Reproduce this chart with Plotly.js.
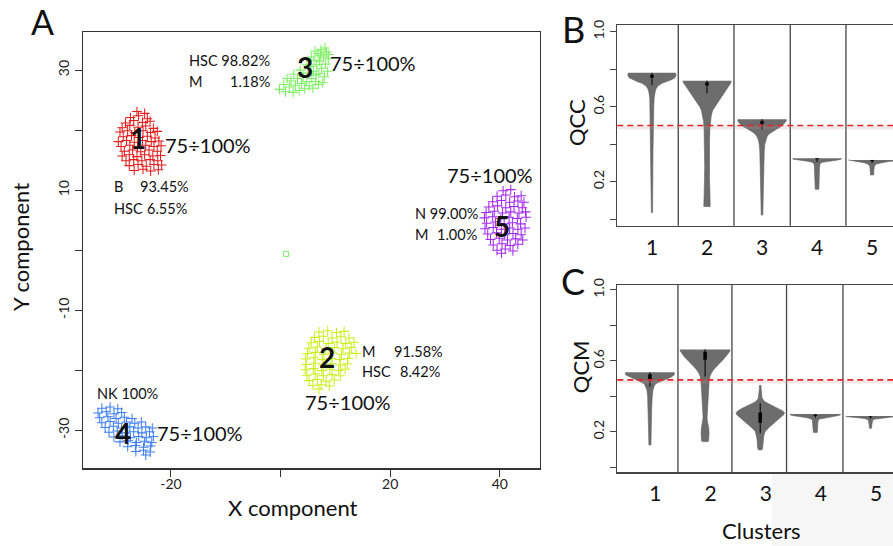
<!DOCTYPE html>
<html><head><meta charset="utf-8">
<script src="https://cdn.plot.ly/plotly-3.0.1.min.js"></script>
<style>html,body{margin:0;padding:0;background:#fff}#chart{width:893px;height:546px}</style>
</head><body><div id="chart"></div>
<script>
// ---------- Panel A: cluster points (X component, Y component) ----------
const cluster1Pts = [[-26.2,23.1],[-24.8,22.8],[-27.4,22.1],[-25.9,22.4],[-24.3,21.9],
[-28.3,21.2],[-26.8,21.6],[-25.2,21.3],[-23.8,21.5],[-28.9,20.4],[-27.5,20.8],[-26.0,20.5],[-24.6,20.7],[-23.2,20.3],
[-29.3,19.7],[-27.9,19.9],[-26.6,19.6],[-25.1,19.9],[-23.7,19.6],[-22.5,19.8],
[-28.7,18.9],[-27.2,19.1],[-25.8,18.8],[-24.3,19.0],[-22.9,18.7],
[-29.6,18.1],[-28.1,18.3],[-26.7,18.0],[-25.2,18.3],[-23.6,18.1],[-22.2,18.2],
[-29.1,17.3],[-27.5,17.5],[-26.1,17.2],[-24.6,17.5],[-23.1,17.3],[-21.8,17.4],
[-28.5,16.5],[-27.0,16.7],[-25.5,16.4],[-24.0,16.7],[-22.5,16.5],
[-28.9,15.7],[-27.6,15.9],[-26.2,15.6],[-24.8,15.9],[-23.3,15.7],[-21.9,15.8],
[-28.2,14.9],[-26.8,15.1],[-25.3,14.9],[-23.8,15.1],[-22.4,14.9],
[-27.6,14.1],[-26.0,14.3],[-24.5,14.0],[-23.1,14.3],[-21.7,14.2],
[-26.7,13.3],[-25.1,13.5],[-23.7,13.2],[-22.3,13.4]];
const cluster2Pts = [[7.0,-13.6],[8.6,-13.4],[10.2,-13.7],[11.6,-13.5],
[6.2,-14.5],[7.8,-14.3],[9.4,-14.6],[11.0,-14.4],[12.5,-14.6],
[5.6,-15.4],[7.1,-15.2],[8.7,-15.5],[10.3,-15.3],[11.9,-15.5],[13.4,-15.3],
[5.2,-16.3],[6.7,-16.1],[8.3,-16.4],[9.8,-16.2],[11.4,-16.4],[12.9,-16.2],
[4.9,-17.2],[6.4,-17.0],[7.9,-17.3],[9.5,-17.1],[11.1,-17.3],[12.6,-17.1],[13.8,-17.2],
[4.6,-18.1],[6.1,-17.9],[7.6,-18.2],[9.2,-18.0],[10.8,-18.2],[12.3,-18.0],
[4.7,-19.0],[6.3,-18.8],[7.8,-19.1],[9.4,-18.9],[10.9,-19.1],[12.2,-18.9],
[4.5,-19.9],[6.0,-19.7],[7.5,-20.0],[9.0,-19.8],[10.6,-20.0],[11.8,-19.8],
[4.8,-20.8],[6.3,-20.6],[7.8,-20.9],[9.4,-20.7],[10.9,-20.9],
[5.2,-21.7],[6.7,-21.5],[8.3,-21.8],[9.8,-21.6],
[5.9,-22.5],[7.4,-22.4],[8.9,-22.6],[7.0,-23.1]];
const cluster3Pts = [[-0.2,26.8],[0.6,27.6],[0.9,26.4],[1.6,27.2],[1.9,28.2],[2.3,26.3],[2.7,27.5],[3.1,28.6],
[3.4,26.6],[3.8,27.8],[4.1,29.0],[4.4,26.9],[4.7,28.1],[5.0,29.5],[5.2,27.4],[5.5,30.6],[5.7,28.6],[6.0,29.8],
[6.1,31.7],[6.4,28.1],[6.6,30.9],[6.8,32.8],[7.0,29.4],[7.1,31.5],[7.4,33.4],[7.5,30.3],[7.8,32.2],[8.0,28.9],
[8.2,31.0],[8.4,33.0],[8.6,29.8],[8.7,31.9],[6.3,33.2],[5.6,32.2],[4.8,30.9],[3.6,30.0],[2.4,29.3],[1.2,28.6],
[7.7,27.9],[8.8,32.6],[6.9,27.6],[5.9,27.0],[7.3,32.5],[8.1,33.7],[6.5,29.2]];
const cluster4Pts = [[-32.6,-26.3],[-31.1,-26.1],[-29.7,-26.4],
[-33.3,-27.1],[-31.8,-26.9],[-30.4,-27.2],[-29.0,-27.0],
[-33.0,-27.9],[-31.5,-27.7],[-30.0,-28.0],[-28.5,-27.8],[-27.1,-28.0],
[-32.6,-28.7],[-31.1,-28.5],[-29.6,-28.8],[-28.1,-28.6],[-26.6,-28.8],[-25.4,-28.6],
[-32.0,-29.5],[-30.5,-29.3],[-29.0,-29.6],[-27.5,-29.4],[-26.0,-29.6],[-24.6,-29.4],[-23.4,-29.6],
[-31.3,-30.3],[-29.8,-30.1],[-28.3,-30.4],[-26.8,-30.2],[-25.3,-30.4],[-23.9,-30.2],
[-30.4,-31.1],[-28.9,-30.9],[-27.4,-31.2],[-25.9,-31.0],[-24.5,-31.2],[-23.2,-31.0],
[-29.3,-31.9],[-27.8,-31.7],[-26.3,-32.0],[-24.8,-31.8],[-23.5,-32.0],
[-27.9,-32.7],[-26.5,-32.5],[-25.0,-32.8],[-23.7,-32.6],
[-26.4,-33.5],[-25.0,-33.3],[-23.8,-33.6],[-24.6,-34.1]];
const cluster5Pts = [[40.6,9.9],[42.0,10.1],
[39.5,9.0],[41.1,9.2],[42.7,8.9],[43.9,9.1],
[38.7,8.1],[40.3,8.3],[41.8,8.0],[43.3,8.2],[44.4,8.0],
[38.0,7.2],[39.6,7.4],[41.1,7.1],[42.6,7.3],[44.1,7.1],
[37.5,6.3],[39.0,6.5],[40.5,6.2],[42.0,6.4],[43.5,6.2],[44.7,6.4],
[37.2,5.4],[38.7,5.6],[40.2,5.3],[41.7,5.5],[43.2,5.3],[44.8,5.5],
[37.6,4.5],[39.2,4.7],[40.8,4.4],[42.3,4.6],[43.8,4.4],
[37.3,3.6],[38.8,3.8],[40.3,3.5],[41.8,3.7],[43.3,3.5],[44.6,3.7],
[37.8,2.7],[39.4,2.9],[40.9,2.6],[42.4,2.8],[43.9,2.6],
[38.3,1.8],[39.9,2.0],[41.4,1.7],[42.9,1.9],[44.2,1.7],
[38.8,0.9],[40.4,1.1],[41.9,0.8],[43.3,1.0],
[39.5,0.0],[41.0,0.2],[42.4,-0.1],[40.3,-0.5]];
const outlierPts = [[1.0,-0.6]];

// ---------- Panel B: QCC violin density profiles (level, relative density) ----------
const qccLevel1 = [0.781,0.776,0.765,0.755,0.745,0.735,0.725,0.71,0.695,0.675,0.645,0.60,0.50,0.35,0.20,0.10,0.035];
const qccDens1  = [23,24,24,23,20,15,10,6,4,3,2.2,1.8,1.3,1.0,0.8,0.7,0.6];
const qccLevel2 = [0.739,0.733,0.72,0.70,0.68,0.66,0.64,0.62,0.60,0.58,0.55,0.52,0.48,0.42,0.35,0.28,0.21,0.15,0.11,0.067];
const qccDens2  = [23.5,24.2,23,20.5,18,15.2,12.5,9.8,7.3,5.6,4.2,3.4,2.9,2.5,2.3,2.3,2.5,2.9,3.2,3.2];
const qccLevel3 = [0.533,0.527,0.515,0.50,0.49,0.48,0.467,0.455,0.44,0.42,0.40,0.36,0.30,0.20,0.10,0.022];
const qccDens3  = [24,24.5,23,20.5,18,14.5,10,7,5,3.5,2.8,2.2,1.8,1.4,1.1,0.8];
const qccLevel4 = [0.325,0.320,0.316,0.312,0.308,0.303,0.298,0.29,0.27,0.23,0.19,0.159];
const qccDens4  = [24.5,24,21,14,8,5,3.5,2.8,2.4,2.2,2.0,1.8];
const qccLevel5 = [0.316,0.311,0.306,0.301,0.296,0.29,0.28,0.26,0.236];
const qccDens5  = [24,22,15,8,5,3.2,2.2,1.8,1.6];
const qccBoxLo = [0.755,0.713,0.508,0.319,0.309];
const qccBoxHi = [0.771,0.729,0.524,0.325,0.315];
const qccWhiskLo = [0.715,0.672,0.477,0.305,0.300];
const qccWhiskHi = [0.781,0.739,0.533,0.325,0.316];
const qccThreshold = 0.5;

// ---------- Panel C: QCM violin density profiles ----------
const qcmLevel1 = [0.536,0.530,0.52,0.51,0.50,0.49,0.48,0.47,0.455,0.435,0.40,0.33,0.25,0.18,0.126];
const qcmDens1  = [24,24.7,24,21.5,17.5,12.5,8.5,5.5,4,3,2.3,1.7,1.4,1.2,1.0];
const qcmLevel2 = [0.665,0.658,0.645,0.625,0.605,0.587,0.568,0.549,0.53,0.511,0.48,0.455,0.40,0.34,0.30,0.28,0.26,0.24,0.22,0.19,0.165,0.15,0.145];
const qcmDens2  = [24.5,25,23.5,21,17.8,14.5,11.3,8.3,6.2,4.8,4.0,3.7,3.2,2.8,2.2,2.0,2.3,3.0,3.7,4.0,3.9,3.5,3.0];
const qcmLevel3 = [0.464,0.44,0.41,0.39,0.37,0.351,0.333,0.318,0.308,0.297,0.285,0.27,0.257,0.243,0.229,0.215,0.201,0.18,0.154,0.12,0.105,0.098];
const qcmDens3  = [0.6,0.9,1.2,1.8,4.5,11,18,22.5,24.2,23.5,21,18.3,15.5,12.5,9.5,6.8,4.8,3.6,3.0,2.8,2.3,1.5];
const qcmLevel4 = [0.301,0.297,0.292,0.287,0.282,0.277,0.272,0.265,0.255,0.23,0.21,0.197];
const qcmDens4  = [24.5,25.3,23,18,11,6.5,4.2,3,2.5,2.3,2.2,2.0];
const qcmLevel5 = [0.289,0.286,0.283,0.279,0.275,0.271,0.266,0.255,0.24,0.22];
const qcmDens5  = [24,24.7,20,12,6,3.5,2.2,1.6,1.3,1.0];
const qcmBoxLo = [0.497,0.606,0.252,0.289,0.282];
const qcmBoxHi = [0.525,0.652,0.309,0.297,0.287];
const qcmWhiskLo = [0.455,0.512,0.193,0.280,0.275];
const qcmWhiskHi = [0.536,0.665,0.361,0.301,0.289];
const qcmThreshold = 0.493;

const clusterLabels = ['1','2','3','4','5'];

// ---------- build ----------
const W = 893, H = 546;
const colors = ['#e41c1c', '#cdee1e', '#7cf062', '#3f7ff5', '#a328f0'];
const allClusters = [cluster1Pts, cluster2Pts, cluster3Pts, cluster4Pts, cluster5Pts];
const traces = [];
allClusters.forEach((pts, i) => {
  traces.push({
    type: 'scatter', mode: 'markers', xaxis: 'x', yaxis: 'y',
    x: pts.map(p => p[0]), y: pts.map(p => p[1]),
    marker: {symbol: 'cross-thin', size: 7, line: {width: 1.05, color: colors[i]}},
    hoverinfo: 'skip'
  });
});
traces.push({
  type: 'scatter', mode: 'markers', xaxis: 'x', yaxis: 'y',
  x: outlierPts.map(p => p[0]), y: outlierPts.map(p => p[1]),
  marker: {symbol: 'square-open', size: 5, color: '#7cf062', line: {width: 1, color: '#7cf062'}},
  hoverinfo: 'skip'
});

const K = 1 / 55.1; // density unit -> category-axis unit
function violin(levels, dens, c, xa, ya) {
  const xs = levels.map((v, i) => c + dens[i] * K)
    .concat(levels.slice().reverse().map((v, j) => c - dens[levels.length - 1 - j] * K));
  const ys = levels.concat(levels.slice().reverse());
  return {type: 'scatter', mode: 'lines', x: xs, y: ys, fill: 'toself',
    fillcolor: '#6d6d6d', line: {color: '#5f5f5f', width: 0.6},
    xaxis: xa, yaxis: ya, hoverinfo: 'skip'};
}
const qccL = [qccLevel1, qccLevel2, qccLevel3, qccLevel4, qccLevel5];
const qccD = [qccDens1, qccDens2, qccDens3, qccDens4, qccDens5];
const qcmL = [qcmLevel1, qcmLevel2, qcmLevel3, qcmLevel4, qcmLevel5];
const qcmD = [qcmDens1, qcmDens2, qcmDens3, qcmDens4, qcmDens5];
for (let i = 0; i < 5; i++) traces.push(violin(qccL[i], qccD[i], i + 1, 'x2', 'y2'));
for (let i = 0; i < 5; i++) traces.push(violin(qcmL[i], qcmD[i], i + 1, 'x3', 'y3'));

function segs(lo, hi) {
  const x = [], y = [];
  lo.forEach((v, i) => { x.push(i + 1, i + 1, null); y.push(v, hi[i], null); });
  return {x, y};
}
[[qccWhiskLo, qccWhiskHi, 1, 'x2', 'y2'], [qccBoxLo, qccBoxHi, 3.5, 'x2', 'y2'],
 [qcmWhiskLo, qcmWhiskHi, 1, 'x3', 'y3'], [qcmBoxLo, qcmBoxHi, 3.5, 'x3', 'y3']].forEach(d => {
  const s = segs(d[0], d[1]);
  traces.push({type: 'scatter', mode: 'lines', x: s.x, y: s.y, xaxis: d[3], yaxis: d[4],
    line: {color: '#000', width: d[2]}, hoverinfo: 'skip', connectgaps: false});
});

const FONT = 'Lato, "Open Sans", sans-serif';
const P = (px, py) => ({x: px / W, y: 1 - py / H});
function ann(text, px, py, size, xanchor, opts) {
  const p = P(px, py);
  return Object.assign({text, x: p.x, y: p.y, xref: 'paper', yref: 'paper', showarrow: false,
    xanchor: xanchor || 'center', yanchor: 'middle', font: {family: FONT, size, color: '#111'}}, opts || {});
}
const S = 14.5;
const annotations = [
  ann('A', 42.5, 22, 34), ann('B', 573.3, 28.5, 36), ann('C', 573.3, 280.5, 36),
  ann('X component', 293, 507, 22), ann('Y component', 21, 247, 22, 'center', {textangle: -90}),
  ann('QCC', 575.8, 122.3, 22, 'center', {textangle: -90}),
  ann('QCM', 580.5, 366.7, 22, 'center', {textangle: -90}),
  ann('Clusters', 761.7, 530.7, 22),
  // cluster 1
  ann('<b>1</b>', 138.3, 138.3, 28), ann('75÷100%', 163.3, 145, 20, 'left'),
  ann('B', 112.3, 186.7, S, 'left'), ann('93.45%', 191, 186.7, S, 'right'),
  ann('HSC', 112.3, 208.3, S, 'left'), ann('6.55%', 189.3, 208.3, S, 'right'),
  // cluster 3
  ann('HSC 98.82%', 187.3, 60.7, S, 'left'),
  ann('M', 187.3, 81.7, S, 'left'), ann('1.18%', 271.7, 81.7, S, 'right'),
  ann('<b>3</b>', 305, 66.7, 28), ann('75÷100%', 328.3, 63.3, 20, 'left'),
  // cluster 5
  ann('75÷100%', 445, 174.5, 20, 'left'),
  ann('N 99.00%', 412.8, 213.3, S, 'left'),
  ann('M', 412.8, 234.8, S, 'left'), ann('1.00%', 478.7, 234.8, S, 'right'),
  ann('<b>5</b>', 501.9, 225.5, 28),
  // cluster 2
  ann('<b>2</b>', 326.7, 356.7, 28),
  ann('M', 360, 351.7, S, 'left'), ann('91.58%', 445, 351.7, S, 'right'),
  ann('HSC', 360, 371.7, S, 'left'), ann('8.42%', 442.3, 371.7, S, 'right'),
  ann('75÷100%', 303.3, 401.7, 20, 'left'),
  // cluster 4
  ann('NK 100%', 95, 393.3, S, 'left'),
  ann('<b>4</b>', 123.3, 433.3, 28), ann('75÷100%', 155, 433.3, 20, 'left')
];

const shapes = [];
[1.478, 2.49, 3.513, 4.525].forEach(s => shapes.push({type: 'line', xref: 'x2', yref: 'y2 domain',
  x0: s, x1: s, y0: 0, y1: 1, line: {color: '#444', width: 1.3}}));
[1.508, 2.487, 3.477, 4.50].forEach(s => shapes.push({type: 'line', xref: 'x3', yref: 'y3 domain',
  x0: s, x1: s, y0: 0, y1: 1, line: {color: '#444', width: 1.3}}));
[['x2', 'y2', qccThreshold, 0.011], ['x3', 'y3', qcmThreshold, 0.011]].forEach(d => {
  shapes.push({type: 'line', xref: d[0] + ' domain', yref: d[1], x0: 0, x1: 1, y0: d[2] - d[3], y1: d[2] - d[3],
    line: {color: 'rgba(200,150,150,0.22)', width: 3.5}});
  shapes.push({type: 'line', xref: d[0] + ' domain', yref: d[1], x0: 0, x1: 1, y0: d[2], y1: d[2],
    line: {color: '#e3262b', width: 1.6, dash: '6px,4px'}});
});
shapes.push({type: 'rect', xref: 'paper', yref: 'paper', x0: 772 / W, x1: 1, y0: 0, y1: (H - 472.5) / H,
  fillcolor: '#f6f6f6', line: {width: 0}, layer: 'below'});

const tickFont = {family: FONT, size: 14, color: '#222'};
const layout = {
  width: W, height: H, margin: {l: 0, r: 0, t: 0, b: 0},
  paper_bgcolor: '#fff', plot_bgcolor: 'rgba(0,0,0,0)', showlegend: false,
  font: {family: FONT},
  xaxis: {domain: [82.7 / W, 539.8 / W], range: [-36.1, 47.3], anchor: 'y',
    showline: true, mirror: true, linecolor: '#333', linewidth: 1.2, showgrid: false, zeroline: false,
    ticks: 'outside', ticklen: 7, tickcolor: '#333', tickvals: [-20, 0, 20, 40], ticktext: ['-20', '', '20', '40'],
    ticklabelstandoff: -4, tickfont: tickFont},
  yaxis: {domain: [(H - 468.3) / H, (H - 31.7) / H], range: [-36.3, 36.4], anchor: 'x',
    showline: true, mirror: true, linecolor: '#333', linewidth: 1.2, showgrid: false, zeroline: false,
    ticks: 'outside', ticklen: 7, tickcolor: '#333', tickvals: [-30, -20, -10, 0, 10, 20, 30],
    ticktext: ['-30', '', '-10', '', '10', '', '30'], tickangle: -90, tickfont: tickFont},
  xaxis2: {domain: [617.3 / W, 1], range: [0.37, 5.38], anchor: 'y2',
    showline: true, mirror: true, linecolor: '#444', linewidth: 1.3, showgrid: false, zeroline: false,
    ticks: '', tickvals: [1, 2, 3, 4, 5], ticktext: clusterLabels, ticklabelstandoff: 3,
    tickfont: {family: FONT, size: 21, color: '#111'}},
  yaxis2: {domain: [(H - 225.7) / H, (H - 25) / H], range: [-0.035, 1.036], anchor: 'x2',
    showline: true, linecolor: '#444', linewidth: 1.3, showgrid: false, zeroline: false,
    ticks: 'outside', ticklen: 6, tickcolor: '#444', tickvals: [0, 0.2, 0.4, 0.6, 0.8, 1.0],
    ticktext: ['', '0.2', '', '0.6', '', '1.0'], tickangle: -90, tickfont: tickFont},
  xaxis3: {domain: [617.3 / W, 1], range: [0.408, 5.408], anchor: 'y3',
    showline: true, mirror: true, linecolor: '#444', linewidth: 1.3, showgrid: false, zeroline: false,
    ticks: '', tickvals: [1.1, 2.1, 3.1, 4.1, 5.1], ticktext: clusterLabels, ticklabelstandoff: 2,
    tickfont: {family: FONT, size: 21, color: '#111'}},
  yaxis3: {domain: [(H - 472.3) / H, (H - 285) / H], range: [-0.028, 1.028], anchor: 'x3',
    showline: true, linecolor: '#444', linewidth: 1.3, showgrid: false, zeroline: false,
    ticks: 'outside', ticklen: 6, tickcolor: '#444', tickvals: [0, 0.2, 0.4, 0.6, 0.8, 1.0],
    ticktext: ['', '0.2', '', '0.6', '', '1.0'], tickangle: -90, tickfont: tickFont},
  annotations, shapes
};
Plotly.newPlot('chart', traces, layout, {displayModeBar: false, staticPlot: true});
</script></body></html>
